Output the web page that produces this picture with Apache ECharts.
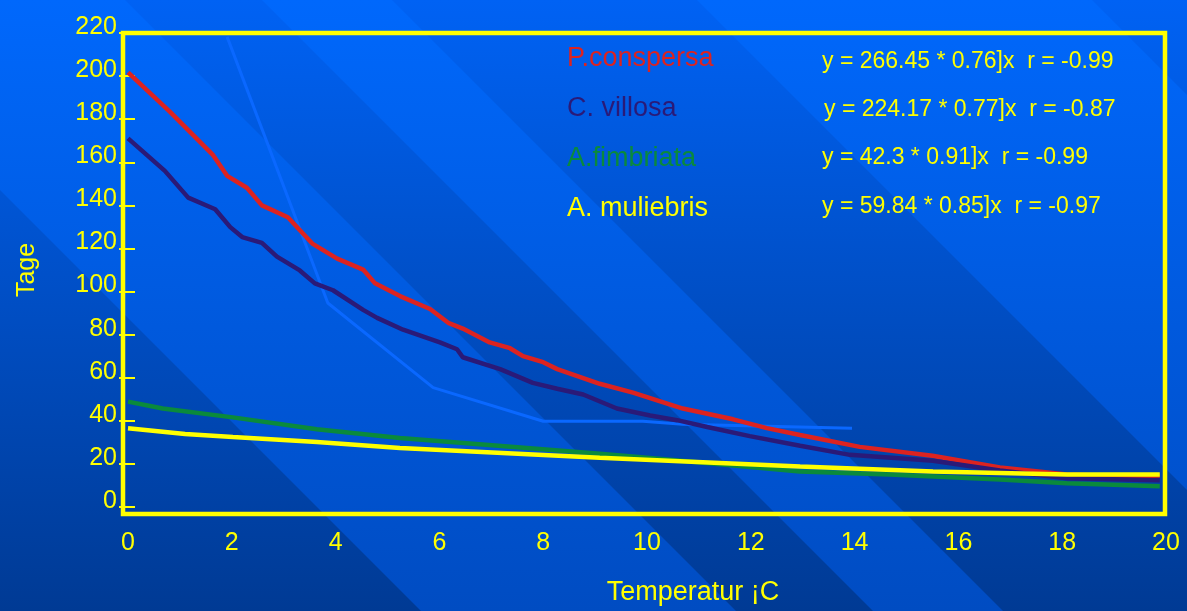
<!DOCTYPE html>
<html>
<head>
<meta charset="utf-8">
<script src="https://cdn.jsdelivr.net/npm/echarts@6/dist/echarts.min.js"></script>
<style>
html,body{margin:0;padding:0;background:#0050d0;}
#chart{width:1187px;height:611px;}
</style>
</head>
<body>
<div id="chart"></div>
<script>
// ---- data ----
const yTicks = [0, 20, 40, 60, 80, 100, 120, 140, 160, 180, 200, 220];
const xTicks = [0, 2, 4, 6, 8, 10, 12, 14, 16, 18, 20];

const seriesNames = ['P.conspersa', 'C. villosa', 'A.fimbriata', 'A. muliebris'];
const equations = [
  'y = 266.45 * 0.76]x  r = -0.99',
  'y = 224.17 * 0.77]x  r = -0.87',
  'y = 42.3 * 0.91]x  r = -0.99',
  'y = 59.84 * 0.85]x  r = -0.97'
];

const redTemp = [0, 0.81, 1.64, 1.91, 2.29, 2.58, 3.08, 3.56, 4.03, 4.53, 4.76, 5.24, 5.82, 6.17, 6.45, 6.97, 7.36, 7.61, 8.0, 8.27, 9.09, 9.73, 10.69, 11.66, 12.31, 12.95, 14.1, 15.5, 16.8, 18.09, 19.36, 19.88];
const redDays = [201.7, 183.4, 163.3, 153.7, 148.2, 140.0, 134.5, 122.1, 115.3, 110.2, 103.8, 97.9, 91.9, 85.5, 82.8, 76.4, 73.7, 70.0, 67.2, 64.0, 57.2, 53.1, 45.7, 40.7, 36.6, 33.4, 27.9, 23.8, 18.3, 15.1, 14.2, 14.6];

const purpleTemp = [0, 0.71, 1.16, 1.68, 1.97, 2.20, 2.58, 2.87, 3.31, 3.60, 3.95, 4.53, 4.80, 5.30, 6.01, 6.34, 6.45, 7.17, 7.80, 8.27, 8.77, 9.42, 10.06, 10.58, 11.16, 11.98, 12.95, 13.91, 15.51, 16.80, 18.09, 19.88];
const purpleDays = [171.1, 156.0, 143.6, 138.2, 129.9, 125.3, 122.6, 116.2, 109.8, 103.8, 100.6, 91.5, 87.8, 82.3, 76.4, 73.2, 69.5, 64.0, 57.6, 54.9, 52.2, 45.7, 42.5, 40.3, 37.1, 32.9, 28.4, 24.2, 21.5, 16.9, 13.3, 12.4];

const greenTemp = [0, 0.67, 2.02, 3.64, 5.24, 9.09, 10.39, 12.95, 14.68, 16.80, 18.09, 19.88];
const greenDays = [48.9, 45.7, 41.6, 36.1, 32.0, 24.7, 22.0, 16.5, 15.1, 12.8, 11.0, 9.6];

const yellowTemp = [0, 1.10, 2.02, 3.64, 5.24, 9.09, 12.95, 15.51, 18.09, 19.88];
const yellowDays = [36.6, 33.9, 32.5, 30.2, 27.4, 22.9, 18.8, 16.5, 15.1, 15.1];

const blueTemp = [1.91, 3.85, 5.88, 8.0, 9.92, 10.69, 13.95];
const blueDays = [218.2, 94.7, 55.4, 39.8, 39.8, 38.4, 36.6];

// ---- styling ----
const FONT = '"Liberation Sans", Arial, sans-serif';
const YELLOW = '#ffff00';
const colors = ['#dc2320', '#2a1a78', '#0a8a3c', '#ffff00'];

function zip(a, b) { return a.map((v, i) => [v, b[i]]); }

// background diagonal bands (x offset at top edge, 45 degrees)
const lightBands = [[-190, 125], [262, 392], [697, 1092]];
const W = 1187, H = 611;
function grad(top, bottom) {
  return new echarts.graphic.LinearGradient(0, 0, 0, 1, [
    { offset: 0, color: top }, { offset: 1, color: bottom }
  ]);
}
const bgElems = [{
  type: 'rect', z: -20, silent: true,
  shape: { x: 0, y: 0, width: W, height: H },
  style: { fill: grad('#0062f4', '#003a94') }
}];
lightBands.forEach(b => {
  bgElems.push({
    type: 'polygon', z: -19, silent: true,
    shape: { points: [[b[0], 0], [b[1], 0], [b[1] + H, H], [b[0] + H, H]] },
    style: { fill: grad('#0068fc', '#004cc2') }
  });
});

const eqY = [62, 110, 158, 207];
const eqX = [822, 824, 822, 822];
const eqElems = equations.map((t, i) => ({
  type: 'text', z: 10,
  style: {
    text: t, x: eqX[i], y: eqY[i], fill: YELLOW,
    font: '23px ' + FONT, verticalAlign: 'middle', textVerticalAlign: 'middle'
  }
}));

const frame = {
  type: 'rect', z: 5, silent: true,
  shape: { x: 123, y: 33, width: 1042, height: 481 },
  style: { fill: 'none', stroke: YELLOW, lineWidth: 4.5 }
};

const chart = echarts.init(document.getElementById('chart'), null, { renderer: 'canvas' });
const option = {
  animation: false,
  textStyle: { fontFamily: FONT },
  grid: { left: 128, right: 21, top: 33, bottom: 97, containLabel: false },
  legend: {
    orient: 'vertical', left: 557, top: 39, icon: 'none',
    itemWidth: 0, itemHeight: 0, itemGap: 20, selectedMode: false,
    textStyle: { fontSize: 27, lineHeight: 30, fontFamily: FONT },
    data: seriesNames.map((n, i) => ({ name: n, textStyle: { color: colors[i] } }))
  },
  xAxis: {
    type: 'value', min: xTicks[0], max: xTicks[xTicks.length - 1], interval: 2,
    axisLine: { show: false }, axisTick: { show: false }, splitLine: { show: false },
    axisLabel: { color: YELLOW, fontSize: 25, margin: 24, fontFamily: FONT },
    name: 'Temperatur ¡C', nameLocation: 'middle', nameGap: 72,
    nameTextStyle: { color: YELLOW, fontSize: 27, fontFamily: FONT, padding: [0, 0, 0, 92] }
  },
  yAxis: [{
    type: 'value', min: yTicks[0], max: yTicks[yTicks.length - 1], interval: 20,
    position: 'left', offset: 5,
    axisLine: { show: false },
    axisTick: { show: true, inside: false, length: 9, lineStyle: { color: YELLOW, width: 2 } },
    splitLine: { show: false },
    axisLabel: { color: YELLOW, fontSize: 25, margin: 6, verticalAlign: 'bottom', lineHeight: 12, fontFamily: FONT },
    name: 'Tage', nameLocation: 'middle', nameGap: 83,
    nameTextStyle: { color: YELLOW, fontSize: 25, fontFamily: FONT }
  }, {
    type: 'value', min: yTicks[0], max: yTicks[yTicks.length - 1], interval: 20,
    position: 'left', offset: 5,
    axisLine: { show: false },
    axisTick: { show: true, inside: true, length: 12, lineStyle: { color: YELLOW, width: 2 } },
    splitLine: { show: false },
    axisLabel: { show: false }
  }],
  graphic: { elements: bgElems.concat([frame]).concat(eqElems) },
  series: [
    { name: 'line', type: 'line', data: zip(blueTemp, blueDays), showSymbol: false, symbol: 'none',
      lineStyle: { color: '#0a68ff', width: 3 }, itemStyle: { color: '#0a68ff' }, z: 1 },
    { name: seriesNames[0], type: 'line', data: zip(redTemp, redDays), symbol: 'none',
      lineStyle: { color: colors[0], width: 4.5 }, itemStyle: { color: colors[0] }, z: 3 },
    { name: seriesNames[1], type: 'line', data: zip(purpleTemp, purpleDays), symbol: 'none',
      lineStyle: { color: colors[1], width: 4.5 }, itemStyle: { color: colors[1] }, z: 3 },
    { name: seriesNames[2], type: 'line', data: zip(greenTemp, greenDays), symbol: 'none',
      lineStyle: { color: colors[2], width: 4.5 }, itemStyle: { color: colors[2] }, z: 3 },
    { name: seriesNames[3], type: 'line', data: zip(yellowTemp, yellowDays), symbol: 'none',
      lineStyle: { color: colors[3], width: 4.5 }, itemStyle: { color: colors[3] }, z: 3 }
  ]
};
chart.setOption(option);
</script>
</body>
</html>
